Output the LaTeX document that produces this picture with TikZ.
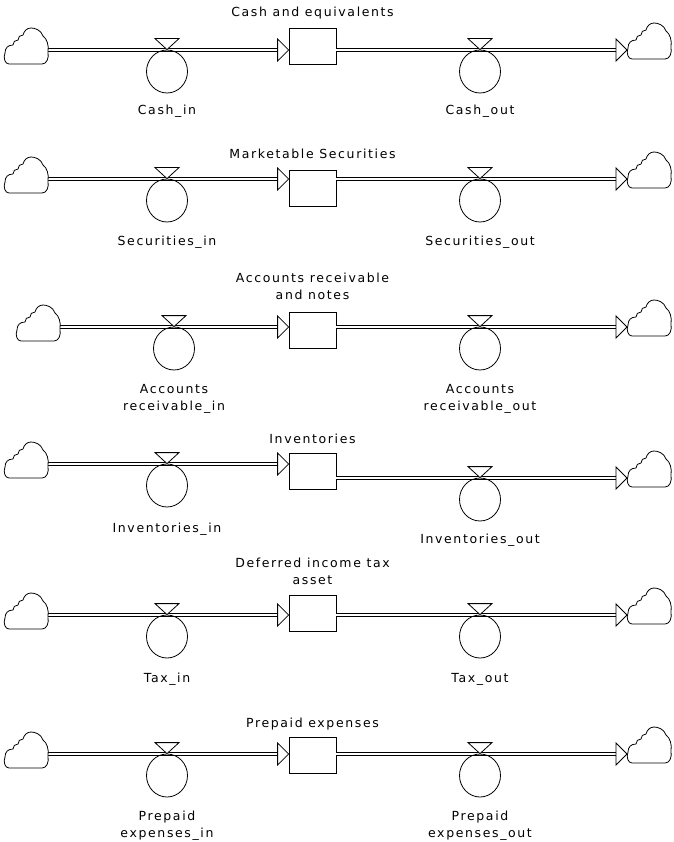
\documentclass[tikz,border=0pt]{standalone}
\usepackage{fontspec}
\newfontfamily\sdfont[LetterSpace=13]{DejaVu Sans}
\usetikzlibrary{calc,shapes.geometric}
\tikzset{
  pipe/.style={draw=black, line width=0.9pt, double=white, double distance=1.8pt},
  arrowhd/.style={draw=black, fill=white, line width=0.8pt, line join=miter},
  vtri/.style={draw=black, fill=white, line width=0.8pt},
  valve/.style={draw=black, ellipse, minimum width=41pt, minimum height=43pt, inner sep=0pt, line width=0.8pt},
  stock/.style={draw=black, fill=white, rectangle, minimum width=47pt, minimum height=36pt, inner sep=0pt, line width=0.8pt},
  lbl/.style={font=\sdfont\fontsize{12.5pt}{17pt}\selectfont, inner sep=0pt, align=center, text=black},
  sdcloud/.pic={
    \draw[black, line width=0.8pt, fill=white, line join=round]
      (5,36) -- (38,36)
      .. controls (43,36) and (45,30) .. (44,24)
      .. controls (45,17) and (43,11) .. (39,8)
      .. controls (37,2) and (31,0) .. (27,0)
      .. controls (23,0) and (20,3) .. (19,7)
      .. controls (16,7) and (14,9) .. (14,12)
      .. controls (11,12) and (9,14) .. (9,17)
      .. controls (4,17) and (1,20) .. (1,25)
      .. controls (-1,30) and (1,36) .. (5,36) -- cycle;
  }
}
\begin{document}
\begin{tikzpicture}[x=1pt, y=-1pt]
\fill[white] (0,0) rectangle (673,842);
\useasboundingbox (0,0) rectangle (673,842);
% id / left cloud x / pipe in y / pipe out y / box centre y / left valve x
\foreach \r/\lcx/\pin/\pout/\bcy/\lvx in {1/4/50/50/46/167, 2/4/179/179/188/167, 3/16/327/327/330/174, 4/4/464/478/471/167, 5/4/615/615/613/167, 6/4/754/754/755/167}{
  \coordinate (src\r) at (\lcx+44, \pin);
  \coordinate (snk\r) at (627, \pout);
  \node[stock] (box\r) at (312.5, \bcy) {};
  \draw[pipe] (src\r) -- ($(box\r.west|-src\r)+(-11,0)$);
  \draw[pipe] (box\r.east|-snk\r) -- ($(snk\r)+(-11,0)$);
  \draw[arrowhd] (box\r.west|-src\r) -- ++(-11,-11) -- ++(0,22) -- cycle;
  \draw[arrowhd] (snk\r) -- ++(-11,-11) -- ++(0,22) -- cycle;
  \node[valve] (vin\r) at (\lvx, \pin+21.5) {};
  \node[valve] (vout\r) at (480, \pout+21.5) {};
  \draw[vtri] (vin\r.north) -- ++(-12,-11) -- ++(24,0) -- cycle;
  \draw[vtri] (vout\r.north) -- ++(-12,-11) -- ++(24,0) -- cycle;
  \pic at (\lcx, \pin-22) {sdcloud};
  \pic at (627, \pout-27) {sdcloud};
}
% texts
\node[lbl, anchor=base] (t1) at (312.5,17) {Cash and equivalents};
\node[lbl, anchor=base] (li1) at (167,115) {Cash\_in};
\node[lbl, anchor=base] (lo1) at (480,115) {Cash\_out};

\node[lbl, anchor=base] (t2) at (312.5,159) {Marketable Securities};
\node[lbl, anchor=base] (li2) at (167,245) {Securities\_in};
\node[lbl, anchor=base] (lo2) at (480,245) {Securities\_out};

\node[lbl, anchor=south] (t3) at (312.5,300) {Accounts receivable\\and notes};
\node[lbl, anchor=north] (li3) at (174,384) {Accounts\\receivable\_in};
\node[lbl, anchor=north] (lo3) at (480,384) {Accounts\\receivable\_out};

\node[lbl, anchor=base] (t4) at (312.5,443) {Inventories};
\node[lbl, anchor=base] (li4) at (167,532) {Inventories\_in};
\node[lbl, anchor=base] (lo4) at (480,543) {Inventories\_out};

\node[lbl, anchor=south] (t5) at (312.5,585) {Deferred income tax\\asset};
\node[lbl, anchor=base] (li5) at (167,682) {Tax\_in};
\node[lbl, anchor=base] (lo5) at (480,682) {Tax\_out};

\node[lbl, anchor=base] (t6) at (312.5,727) {Prepaid expenses};
\node[lbl, anchor=north] (li6) at (167,810.5) {Prepaid\\expenses\_in};
\node[lbl, anchor=north] (lo6) at (480,810.5) {Prepaid\\expenses\_out};
\end{tikzpicture}
\end{document}
